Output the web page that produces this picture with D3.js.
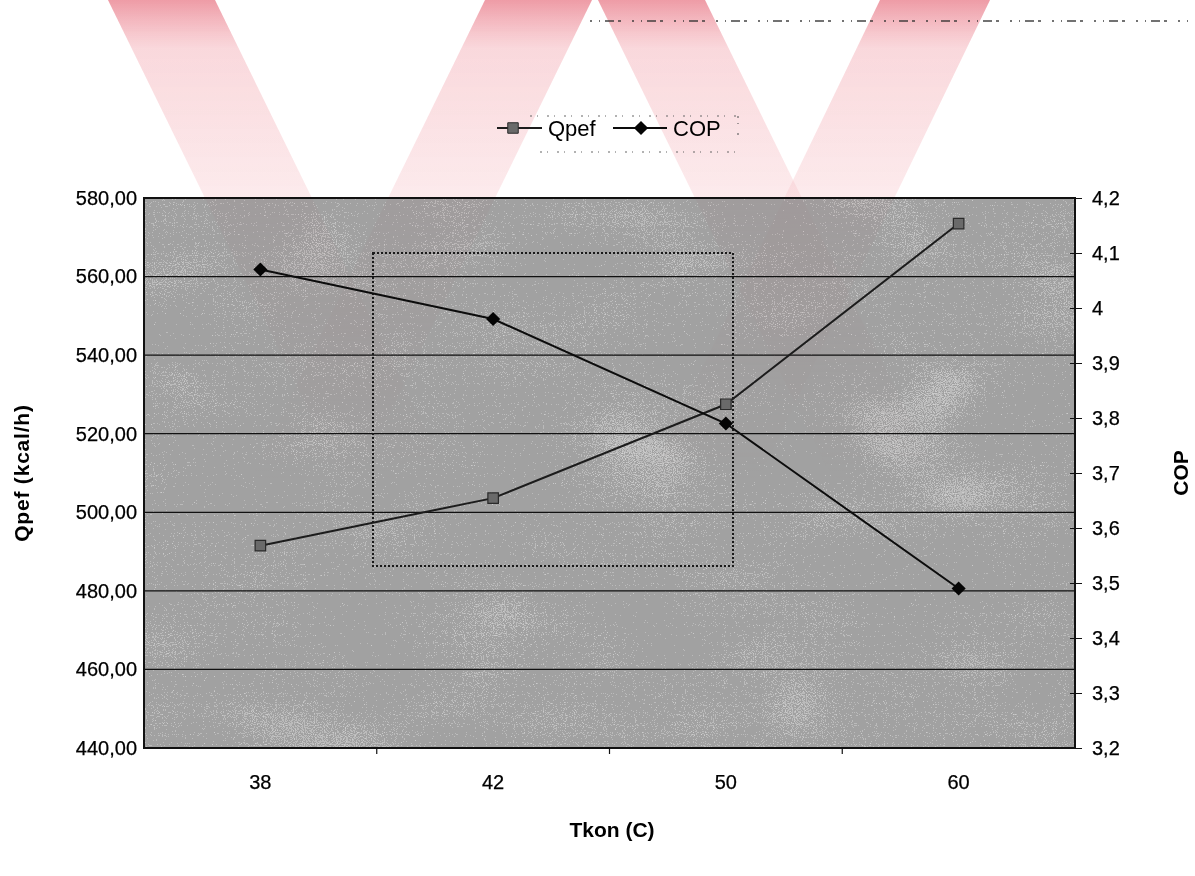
<!DOCTYPE html>
<html>
<head>
<meta charset="utf-8">
<script src="https://cdn.jsdelivr.net/npm/d3@7"></script>
<style>
  html, body { margin: 0; padding: 0; background: #fff; }
  svg { display: block; font-family: "Liberation Sans", Arial, sans-serif; }
</style>
</head>
<body>
<svg id="chart" width="1195" height="876"></svg>
<script>
// data
const categories = ['38', '42', '50', '60'];
const qpef = [491.5, 503.6, 527.5, 573.5];
const cop = [4.07, 3.98, 3.79, 3.49];
const qpefTicks = [440, 460, 480, 500, 520, 540, 560, 580];
const copTicks = [3.2, 3.3, 3.4, 3.5, 3.6, 3.7, 3.8, 3.9, 4.0, 4.1, 4.2];

const svg = d3.select('#chart');
const box = {left: 144, right: 1075, top: 198, bottom: 748};
const font = '"Liberation Sans", Arial, sans-serif';

// turkish decimal comma
const locale = d3.formatLocale({decimal: ',', thousands: '.', grouping: [3], currency: ['', '']});
const fmtLeft = locale.format('.2f');
const fmtRight = d => (d === 4 ? '4' : locale.format('.1f')(d));

const x = d3.scaleBand().domain(categories).range([box.left, box.right]);
const yL = d3.scaleLinear().domain([440, 580]).range([box.bottom, box.top]);
const yR = d3.scaleLinear().domain([3.2, 4.2]).range([box.bottom, box.top]);
const cx = d => x(d) + x.bandwidth() / 2;

const defs = svg.append('defs');

// scanner grain for the plot area
const grain = defs.append('filter').attr('id', 'grain')
  .attr('x', 0).attr('y', 0).attr('width', 1).attr('height', 1);
grain.append('feTurbulence').attr('type', 'fractalNoise')
  .attr('baseFrequency', '0.007 0.013').attr('numOctaves', 2).attr('seed', 5).attr('result', 'lo');
grain.append('feTurbulence').attr('type', 'fractalNoise')
  .attr('baseFrequency', 0.9).attr('numOctaves', 1).attr('seed', 2).attr('result', 'hi');
grain.append('feComposite').attr('in', 'lo').attr('in2', 'hi').attr('operator', 'arithmetic')
  .attr('k1', 0).attr('k2', 0.8).attr('k3', 1.5).attr('k4', -0.62).attr('result', 'mix');
grain.append('feColorMatrix').attr('in', 'mix').attr('type', 'matrix')
  .attr('values', '0.33 0.33 0.33 0 0  0.33 0.33 0.33 0 0  0.33 0.33 0.33 0 0  0 0 0 0 1')
  .attr('result', 'gray');
const ct = grain.append('feComponentTransfer').attr('in', 'gray');
['feFuncR', 'feFuncG', 'feFuncB'].forEach(f => {
  ct.append(f).attr('type', 'discrete').attr('tableValues', '0.36 0.5 0.6 0.67 0.74 0.84 0.97');
});

// watermark gradient
const wg = defs.append('linearGradient').attr('id', 'wm')
  .attr('gradientUnits', 'userSpaceOnUse').attr('x1', 0).attr('y1', 0).attr('x2', 0).attr('y2', 480);
wg.append('stop').attr('offset', 0).attr('stop-color', '#ec8593').attr('stop-opacity', 0.6);
wg.append('stop').attr('offset', 0.1).attr('stop-color', '#f6bcc3').attr('stop-opacity', 0.4);
wg.append('stop').attr('offset', 0.4).attr('stop-color', '#f9d3d7').attr('stop-opacity', 0.32);
wg.append('stop').attr('offset', 1).attr('stop-color', '#f9d3d7').attr('stop-opacity', 0);

// watermark stripes (decoration from the scanned page)
const stripes = [
  [[108, 0], [215, 0], [450, 480], [343, 480]],
  [[485, 0], [592, 0], [357, 480], [250, 480]],
  [[598, 0], [705, 0], [940, 480], [833, 480]],
  [[880, 0], [990, 0], [758, 480], [648, 480]]
];
const wm = svg.append('g').attr('class', 'watermark');
wm.selectAll('path').data(stripes).join('path')
  .attr('d', d => 'M' + d.join('L') + 'Z')
  .attr('fill', 'url(#wm)');

// stray scan speckle line at the top
svg.append('line')
  .attr('x1', 590).attr('x2', 1190).attr('y1', 21).attr('y2', 21)
  .attr('stroke', '#444').attr('stroke-width', 1.3).attr('stroke-dasharray', '2 7 1 5 9 4 3 11');

// plot background
const plot = svg.append('g').attr('class', 'plot');
plot.append('rect')
  .attr('x', box.left).attr('y', box.top)
  .attr('width', box.right - box.left).attr('height', box.bottom - box.top)
  .attr('filter', 'url(#grain)');
// faint pink wash of the watermark over the plot
plot.append('g').style('mix-blend-mode', 'multiply').attr('opacity', 0.5)
  .selectAll('path').data(stripes).join('path')
  .attr('d', d => 'M' + d.join('L') + 'Z')
  .attr('fill', 'url(#wm)');

// gridlines on the left axis
plot.append('g').selectAll('line').data(qpefTicks.slice(1, -1)).join('line')
  .attr('x1', box.left).attr('x2', box.right)
  .attr('y1', d => yL(d)).attr('y2', d => yL(d))
  .attr('stroke', '#111').attr('stroke-width', 1.3);

// dotted box left over on the scan
plot.append('rect')
  .attr('x', 373).attr('y', 253).attr('width', 360).attr('height', 313)
  .attr('fill', 'none').attr('stroke', '#1a1a1a').attr('stroke-width', 2)
  .attr('stroke-dasharray', '2 2');

// frame
plot.append('rect')
  .attr('x', box.left).attr('y', box.top)
  .attr('width', box.right - box.left).attr('height', box.bottom - box.top)
  .attr('fill', 'none').attr('stroke', '#111').attr('stroke-width', 2);

// left axis
const axL = svg.append('g').attr('transform', `translate(${box.left},0)`)
  .call(d3.axisLeft(yL).tickValues(qpefTicks).tickFormat(fmtLeft).tickSize(0).tickPadding(7));
axL.select('.domain').remove();
axL.selectAll('text').attr('font-size', 20).attr('fill', '#000').attr('font-family', font)
  .attr('stroke', '#000').attr('stroke-width', 0.25);

// right axis
const axR = svg.append('g').attr('transform', `translate(${box.right},0)`)
  .call(d3.axisRight(yR).tickValues(copTicks).tickFormat(fmtRight).tickSize(7).tickPadding(10));
axR.select('.domain').remove();
axR.selectAll('line').attr('stroke', '#111').attr('x1', -5);
axR.selectAll('text').attr('font-size', 20).attr('fill', '#000').attr('font-family', font)
  .attr('stroke', '#000').attr('stroke-width', 0.25);

// bottom axis
const axB = svg.append('g').attr('transform', `translate(0,${box.bottom})`)
  .call(d3.axisBottom(x).tickSize(0).tickPadding(27));
axB.select('.domain').remove();
axB.selectAll('text').attr('font-size', 20).attr('fill', '#000').attr('font-family', font)
  .attr('stroke', '#000').attr('stroke-width', 0.25);
axB.selectAll('.sep').data(categories.slice(1)).join('line')
  .attr('class', 'sep')
  .attr('x1', d => x(d)).attr('x2', d => x(d)).attr('y1', 0).attr('y2', 6)
  .attr('stroke', '#111').attr('stroke-width', 1.2);

// axis titles
svg.append('text')
  .attr('transform', `translate(29,${(box.top + box.bottom) / 2}) rotate(-90)`)
  .attr('text-anchor', 'middle').attr('font-size', 21).attr('font-weight', 'bold')
  .attr('letter-spacing', 0.8).attr('fill', '#000')
  .text('Qpef (kcal/h)');
svg.append('text')
  .attr('transform', `translate(1188,${(box.top + box.bottom) / 2}) rotate(-90)`)
  .attr('text-anchor', 'middle').attr('font-size', 21).attr('font-weight', 'bold')
  .attr('fill', '#000')
  .text('COP');
svg.append('text')
  .attr('x', 612).attr('y', 837)
  .attr('text-anchor', 'middle').attr('font-size', 21).attr('font-weight', 'bold')
  .attr('fill', '#000')
  .text('Tkon (C)');

// series
const lineL = d3.line().x((d, i) => cx(categories[i])).y(d => yL(d));
const lineR = d3.line().x((d, i) => cx(categories[i])).y(d => yR(d));
const square = d3.symbol().type(d3.symbolSquare).size(110);
const diamond = d3.symbol().type(d3.symbolSquare).size(100);

const series = svg.append('g').attr('class', 'series');
series.append('path').attr('d', lineL(qpef))
  .attr('fill', 'none').attr('stroke', '#1c1c1c').attr('stroke-width', 2);
series.append('path').attr('d', lineR(cop))
  .attr('fill', 'none').attr('stroke', '#0c0c0c').attr('stroke-width', 2);
series.selectAll('.q').data(qpef).join('path').attr('class', 'q')
  .attr('transform', (d, i) => `translate(${cx(categories[i])},${yL(d)})`)
  .attr('d', square).attr('fill', '#6a6a6a').attr('stroke', '#2a2a2a').attr('stroke-width', 1.2);
series.selectAll('.c').data(cop).join('path').attr('class', 'c')
  .attr('transform', (d, i) => `translate(${cx(categories[i])},${yR(d)}) rotate(45)`)
  .attr('d', diamond).attr('fill', '#050505');

// legend
const legend = svg.append('g').attr('transform', 'translate(0,128)');
legend.append('path').attr('d', 'M497,0H542').attr('stroke', '#1c1c1c').attr('stroke-width', 2);
legend.append('path').attr('transform', 'translate(513,0)').attr('d', square)
  .attr('fill', '#6a6a6a').attr('stroke', '#2a2a2a');
legend.append('text').attr('x', 548).attr('y', 8).attr('font-size', 22).attr('fill', '#000').text('Qpef');
legend.append('path').attr('d', 'M613,0H667').attr('stroke', '#0c0c0c').attr('stroke-width', 2);
legend.append('path').attr('transform', 'translate(641,0) rotate(45)').attr('d', diamond).attr('fill', '#050505');
legend.append('text').attr('x', 673).attr('y', 8).attr('font-size', 22).attr('fill', '#000').text('COP');
// remnants of the dashed legend frame
legend.append('path').attr('d', 'M530,-12H738M738,-12V12M540,24H738')
  .attr('fill', 'none').attr('stroke', '#666').attr('stroke-width', 1.2).attr('stroke-dasharray', '2 5 1 9');
</script>
</body>
</html>
